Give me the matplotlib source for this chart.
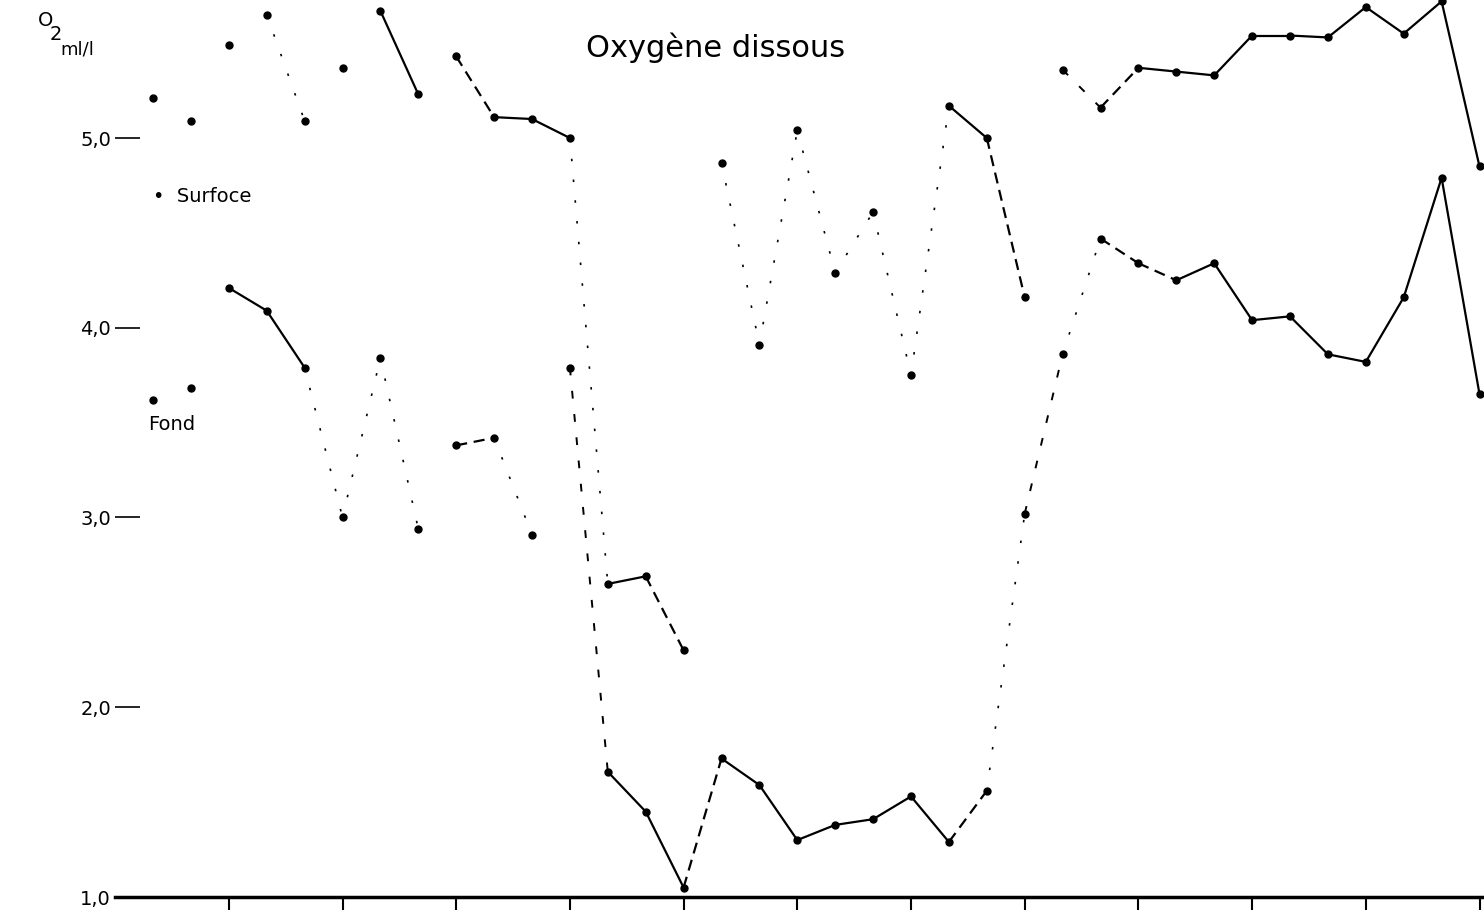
import matplotlib
matplotlib.use("Agg")
import matplotlib.pyplot as plt

# ---- data (station index, O2 ml/l) ----
stations = list(range(36))
surface = [5.21, 5.09, 5.49, 5.65, 5.09, 5.37, 5.67, 5.23, 5.43, 5.11,
           5.10, 5.00, 2.65, 2.69, 2.30, 4.87, 3.91, 5.04, 4.29, 4.61,
           3.75, 5.17, 5.00, 4.16, 5.36, 5.16, 5.37, 5.35, 5.33, 5.54,
           5.54, 5.53, 5.69, 5.55, 5.72, 4.85]
fond = [3.62, 3.68, 4.21, 4.09, 3.79, 3.00, 3.84, 2.94, 3.38, 3.42,
        2.91, 3.79, 1.66, 1.45, 1.05, 1.73, 1.59, 1.30, 1.38, 1.41,
        1.53, 1.29, 1.56, 3.02, 3.86, 4.47, 4.34, 4.25, 4.34, 4.04,
        4.06, 3.86, 3.82, 4.16, 4.79, 3.65]

y_ticks = [1, 2, 3, 4, 5]
y_tick_labels = ["1,0", "2,0", "3,0", "4,0", "5,0"]
x_ticks = list(range(2, 36, 3))

# ---- rendering styles of the (faded) printed segments ----
# S solid, D dashed, p loose dashed, d faint dotted, '' not visible
surface_seg = ['', '', '', 'd', '', '', 'S', '', 'D', 'S',
               'S', 'd', 'S', 'D', '', 'd', 'd', 'd', 'd', 'd',
               'd', 'S', 'D', '', 'p', 'D', 'S', 'S', 'S', 'S',
               'S', 'S', 'S', 'S', 'S']
fond_seg = ['', '', 'S', 'S', 'd', 'd', 'd', '', 'D', 'd',
            '', 'p', 'S', 'S', 'D', 'S', 'S', 'S', 'S', 'S',
            'S', 'D', 'd', 'p', 'd', 'D', 'D', 'S', 'S', 'S',
            'S', 'S', 'S', 'S', 'S']
LS = {'S': ('-', 1.6), 'D': ((0, (5, 3)), 1.6),
      'p': ((0, (4, 8)), 1.4), 'd': ((0, (1.5, 11)), 1.2)}

W, H = 1484, 922
fig = plt.figure(figsize=(W / 100, H / 100), dpi=100)
ax = fig.add_axes([0, 0, 1, 1])
x0_px, dx_px = 153, 37.9
y1_px, dy_px = 897, 189.75
ax.set_xlim(-x0_px / dx_px, (W - x0_px) / dx_px)
ax.set_ylim(1 - (H - y1_px) / dy_px, 1 + y1_px / dy_px)


def draw(vals, segs):
    for i, st in enumerate(segs):
        if st:
            ls, lw = LS[st]
            ax.plot(stations[i:i + 2], vals[i:i + 2], color='black',
                    lw=lw, linestyle=ls, solid_capstyle='round')
    ax.plot(stations, vals, linestyle='none', marker='o', ms=5,
            color='black')


draw(surface, surface_seg)
draw(fond, fond_seg)

# axes
for s in ['top', 'right']:
    ax.spines[s].set_visible(False)
ax.spines['left'].set_position(('data', -1))
ax.spines['left'].set_visible(False)
ax.spines['bottom'].set_position(('data', 1.0))
ax.spines['bottom'].set_bounds(-1, ax.get_xlim()[1])
ax.spines['bottom'].set_linewidth(2.5)
ax.set_xticks(x_ticks)
ax.set_xticklabels([])
ax.tick_params(axis='x', direction='out', length=9, width=1.5)
ax.set_yticks(y_ticks)
ax.set_yticklabels(y_tick_labels)
ax.tick_params(axis='y', direction='in', length=18, width=1.2, pad=3,
               labelsize=14)
for lab in ax.get_yticklabels():
    lab.set_horizontalalignment('right')

# legend-like labels
ax.text(0.0, 4.69, "•  Surfoce", fontsize=14, va='center', ha='left')
ax.text(-0.13, 3.49, "Fond", fontsize=14, va='center', ha='left')

# title and unit label
fig.text(716 / W, 1 - 48 / H, "Oxygène dissous", fontsize=22,
         ha='center', va='center')
fig.text(38 / W, 1 - 20 / H, "O", fontsize=14, ha='left', va='center')
fig.text(50 / W, 1 - 34 / H, "2", fontsize=14, ha='left', va='center')
fig.text(60 / W, 1 - 50 / H, "ml/l", fontsize=13, ha='left', va='center')

fig.savefig("out.png", dpi=100, facecolor='white')
